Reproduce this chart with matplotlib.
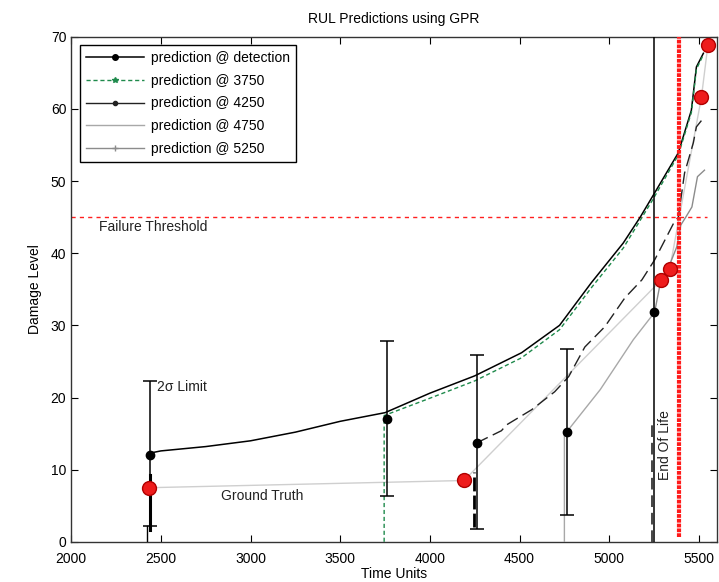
import matplotlib
matplotlib.use("Agg")
import matplotlib.pyplot as plt

plt.rcParams['font.family'] = ['Liberation Sans', 'DejaVu Sans']

# ground truth damage (red dots)
gt_x = [2432, 4190, 5291, 5337, 5514, 5550]
gt_y = [7.5, 8.5, 36.3, 37.8, 61.6, 68.8]

# prediction @ detection
det_x = [2440, 2500, 2750, 3000, 3250, 3500, 3750, 4000, 4250, 4511, 4723, 4900, 5078, 5173, 5240, 5385, 5458, 5486, 5525]
det_y = [12.3, 12.6, 13.2, 14.0, 15.2, 16.7, 17.9, 20.6, 23.0, 26.2, 30.0, 35.9, 41.4, 45.0, 47.8, 53.9, 59.8, 65.8, 67.7]

# prediction @ 3750
p3750_x = [3745, 3745, 4000, 4250, 4511, 4723, 4900, 5078, 5240, 5385, 5458, 5486, 5525]
p3750_y = [0, 17.5, 19.9, 22.3, 25.5, 29.4, 35.2, 40.7, 47.3, 53.6, 59.5, 65.5, 67.5]

# prediction @ 4250
p4250_x = [4260, 4399, 4427, 4567, 4696, 4774, 4864, 4975, 5087, 5182, 5254, 5360, 5385, 5420, 5469, 5486, 5531]
p4250_y = [13.7, 15.4, 16.2, 18.3, 20.8, 22.9, 27.0, 29.8, 33.8, 36.3, 39.1, 44.2, 45.0, 51.1, 55.3, 57.5, 58.9]

# prediction @ 4750
p4750_x = [4750, 4750, 4765, 4950, 5134, 5253]
p4750_y = [0, 15.0, 15.3, 21.1, 28.0, 31.8]

# prediction @ 5250
p5250_x = [5253, 5285, 5332, 5377, 5399, 5427, 5461, 5492, 5531]
p5250_y = [31.8, 35.9, 38.1, 40.9, 43.9, 45.0, 46.4, 50.6, 51.5]

# markers with 2 sigma limits
mk_x = [2440, 3760, 4260, 4765, 5250]
mk_y = [12.0, 17.0, 13.7, 15.2, 31.8]
lo = [2.2, 6.3, 1.8, 3.7, -20]
hi = [22.3, 27.8, 25.9, 26.7, 95]

threshold = 45
eol_x = 5390

fig = plt.figure(figsize=(7.19, 5.82), dpi=100)
ax = fig.add_axes([0.099, 0.069, 0.898, 0.868])

ax.plot(gt_x, gt_y, color='#cfcfcf', lw=1.0, zorder=2)

ax.plot(det_x, det_y, color='black', lw=1.1, zorder=3)
ax.plot(p3750_x, p3750_y, color='#1f8a4c', lw=1.0, ls=(0, (3, 2)), zorder=3)
ax.plot(p4250_x, p4250_y, color='#222222', lw=1.0, ls=(0, (9, 4)), zorder=3)
ax.plot(p4750_x, p4750_y, color='#a8a8a8', lw=1.0, zorder=3)
ax.plot(p5250_x, p5250_y, color='#8c8c8c', lw=1.0, zorder=3)

# start segments
ax.plot([2440, 2440], [1.6, 9.3], color='black', lw=2.2, zorder=3)
ax.plot([2425, 2425], [0, 2.2], color='black', lw=1.0, zorder=3)
ax.plot([4248, 4248], [2.1, 9.7], color='black', lw=2.0, ls=(0, (5, 1.5)), zorder=3)
ax.plot([5241, 5241], [0, 16.2], color='#444444', lw=1.4, ls=(0, (6, 3)), zorder=3)

for x, y, l, h in zip(mk_x, mk_y, lo, hi):
    ax.errorbar([x], [y], yerr=[[y - l], [h - y]], fmt='o', color='black', ms=6,
                ecolor='black', elinewidth=1.1, capsize=5, capthick=1.1, zorder=4)

ax.plot(gt_x, gt_y, 'o', ls='none', color='#ee1c1c', mec='#b00000', ms=10, mew=1.0, zorder=5)

ax.axhline(threshold, xmin=0, xmax=0.985, color='#ff2020', lw=1.0, ls=(0, (3, 3)), zorder=2)
ax.plot([eol_x, eol_x], [0.7, 70], color='#ff1a1a', lw=3, ls=(0, (0.9, 0.25)), zorder=4)

ax.text(2155, 43.6, 'Failure Threshold', fontsize=10, color='#222222', va='center')
ax.text(2480, 21.5, '2\u03c3 Limit', fontsize=10, color='#222222', va='center')
ax.text(2838, 6.4, 'Ground Truth', fontsize=10, color='#222222', va='center')
ax.text(5313, 13.4, 'End Of Life', fontsize=10, color='#222222', rotation=90,
        ha='center', va='center')

# legend proxies
ax.plot([], [], color='black', lw=1.1, marker='o', ms=4, label='prediction @ detection')
ax.plot([], [], color='#1f8a4c', lw=1.0, ls=(0, (3, 2)), marker='*', ms=4, label='prediction @ 3750')
ax.plot([], [], color='#222222', lw=1.0, marker='o', ms=3, label='prediction @ 4250')
ax.plot([], [], color='#a8a8a8', lw=1.0, label='prediction @ 4750')
ax.plot([], [], color='#8c8c8c', lw=1.0, marker='+', ms=4, label='prediction @ 5250')
leg = ax.legend(loc='upper left', fontsize=10, frameon=True, fancybox=False,
                edgecolor='black', framealpha=1, borderaxespad=0.6,
                handlelength=4.2, handletextpad=0.5, labelspacing=0.62, borderpad=0.45)
leg.get_frame().set_linewidth(1.0)

ax.set_xlim(2000, 5600)
ax.set_ylim(0, 70)
ax.set_xticks([2000, 2500, 3000, 3500, 4000, 4500, 5000, 5500])
ax.set_yticks([0, 10, 20, 30, 40, 50, 60, 70])
ax.tick_params(direction='in', top=True, right=True, labelsize=10, length=5)
ax.tick_params(axis='x', pad=7)
for s in ax.spines.values():
    s.set_linewidth(1.0)
    s.set_color('#333333')

ax.set_title('RUL Predictions using GPR', fontsize=10, pad=10)
ax.set_xlabel('Time Units', fontsize=10, labelpad=1)
ax.set_ylabel('Damage Level', fontsize=10, labelpad=6)

fig.savefig('out.png', dpi=100)
